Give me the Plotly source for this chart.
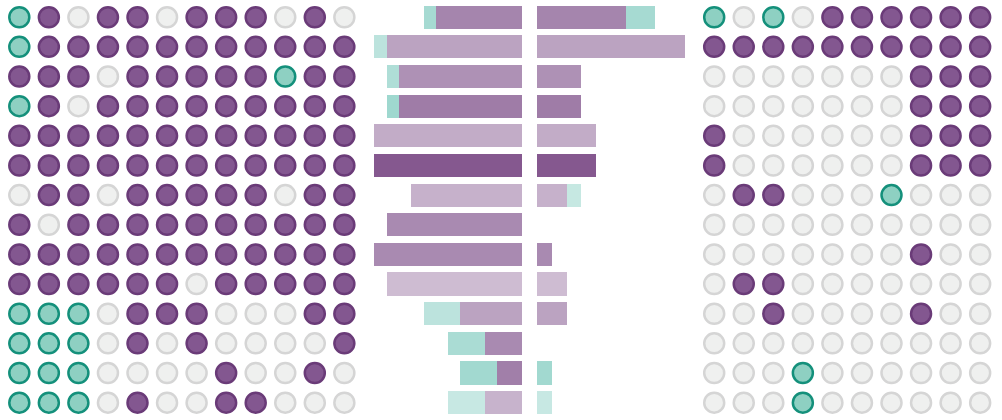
import plotly.graph_objects as go

# ---- data ----
# P = purple, T = teal, G = grey (empty)
left_grid = [
    "TPGPPGPPPGPG",
    "TPPPPPPPPPPP",
    "PPPGPPPPPTPP",
    "TPGPPPPPPPPP",
    "PPPPPPPPPPPP",
    "PPPPPPPPPPPP",
    "GPPGPPPPPGPP",
    "PGPPPPPPPPPP",
    "PPPPPPPPPPPP",
    "PPPPPPGPPPPP",
    "TTTGPPPGGGPP",
    "TTTGPGPGGGGP",
    "TTTGGGGPGGPG",
    "TTTGPGGPPGGG",
]
right_grid = [
    "TGTGPPPPPP",
    "PPPPPPPPPP",
    "GGGGGGGPPP",
    "GGGGGGGPPP",
    "PGGGGGGPPP",
    "PGGGGGGPPP",
    "GPPGGGTGGG",
    "GGGGGGGGGG",
    "GGGGGGGPGG",
    "GPPGGGGGGG",
    "GGPGGGGPGG",
    "GGGGGGGGGG",
    "GGGTGGGGGG",
    "GGGTGGGGGG",
]
row_intensity = [0.69, 0.52, 0.62, 0.74, 0.47, 0.94, 0.44, 0.66, 0.66, 0.38, 0.52, 0.66, 0.72, 0.43]

rows = list(range(len(left_grid)))

# ---- styles ----
PURPLE_FILL, PURPLE_LINE = "#835790", "#6a3b78"
TEAL_FILL, TEAL_LINE = "#8ed0c2", "#14907b"
GREY_FILL, GREY_LINE = "#eff0ef", "#d5d5d5"
BAR_PURPLE = (125, 78, 136)
BAR_TEAL = (126, 202, 190)

fill = {"P": PURPLE_FILL, "T": TEAL_FILL, "G": GREY_FILL}
line = {"P": PURPLE_LINE, "T": TEAL_LINE, "G": GREY_LINE}

fig = go.Figure()


def add_grid(grid, xa, ya):
    xs, ys, fc, lc = [], [], [], []
    for r, rowstr in enumerate(grid):
        for c, ch in enumerate(rowstr):
            xs.append(c)
            ys.append(r)
            fc.append(fill[ch])
            lc.append(line[ch])
    fig.add_trace(go.Scatter(
        x=xs, y=ys, mode="markers", xaxis=xa, yaxis=ya, hoverinfo="skip",
        marker=dict(size=20, color=fc, line=dict(color=lc, width=2.5)),
        showlegend=False,
    ))


add_grid(left_grid, "x", "y")
add_grid(right_grid, "x2", "y")


def rgba(rgb, a):
    return "rgba(%d,%d,%d,%.3f)" % (rgb[0], rgb[1], rgb[2], a)


def add_bars(grid, xa):
    n = len(grid[0])
    p = [row.count("P") / n for row in grid]
    t = [row.count("T") / n for row in grid]
    fig.add_trace(go.Bar(
        x=p, y=rows, orientation="h", xaxis=xa, yaxis="y", width=0.78,
        marker=dict(color=[rgba(BAR_PURPLE, a) for a in row_intensity], line=dict(width=0)),
        showlegend=False, hoverinfo="skip",
    ))
    fig.add_trace(go.Bar(
        x=t, y=rows, orientation="h", xaxis=xa, yaxis="y", width=0.78,
        marker=dict(color=[rgba(BAR_TEAL, a) for a in row_intensity], line=dict(width=0)),
        showlegend=False, hoverinfo="skip",
    ))


add_bars(left_grid, "x3")
add_bars(right_grid, "x4")

W, H = 1002, 420
row0, rstep = 17.2, 29.65
cstep = 29.55


def ax_range(zero_px, unit_px, reverse=False):
    lo = -zero_px / unit_px
    hi = (W - zero_px) / unit_px
    if reverse:
        return [zero_px / unit_px, -(W - zero_px) / unit_px]
    return [lo, hi]


hidden = dict(visible=False, showgrid=False, zeroline=False, fixedrange=True)
fig.update_layout(
    width=W, height=H, margin=dict(l=0, r=0, t=0, b=0),
    paper_bgcolor="white", plot_bgcolor="white",
    barmode="stack",
    xaxis=dict(domain=[0, 1], range=ax_range(19.3, cstep), **hidden),
    xaxis2=dict(domain=[0, 1], overlaying="x", range=ax_range(714.2, cstep), **hidden),
    xaxis3=dict(domain=[0, 1], overlaying="x", range=ax_range(522, 147.7, reverse=True), **hidden),
    xaxis4=dict(domain=[0, 1], overlaying="x", range=ax_range(537, 147.5), **hidden),
    yaxis=dict(domain=[0, 1], range=[(H - row0) / rstep, -row0 / rstep], **hidden),
)

fig.write_html("out.html")
